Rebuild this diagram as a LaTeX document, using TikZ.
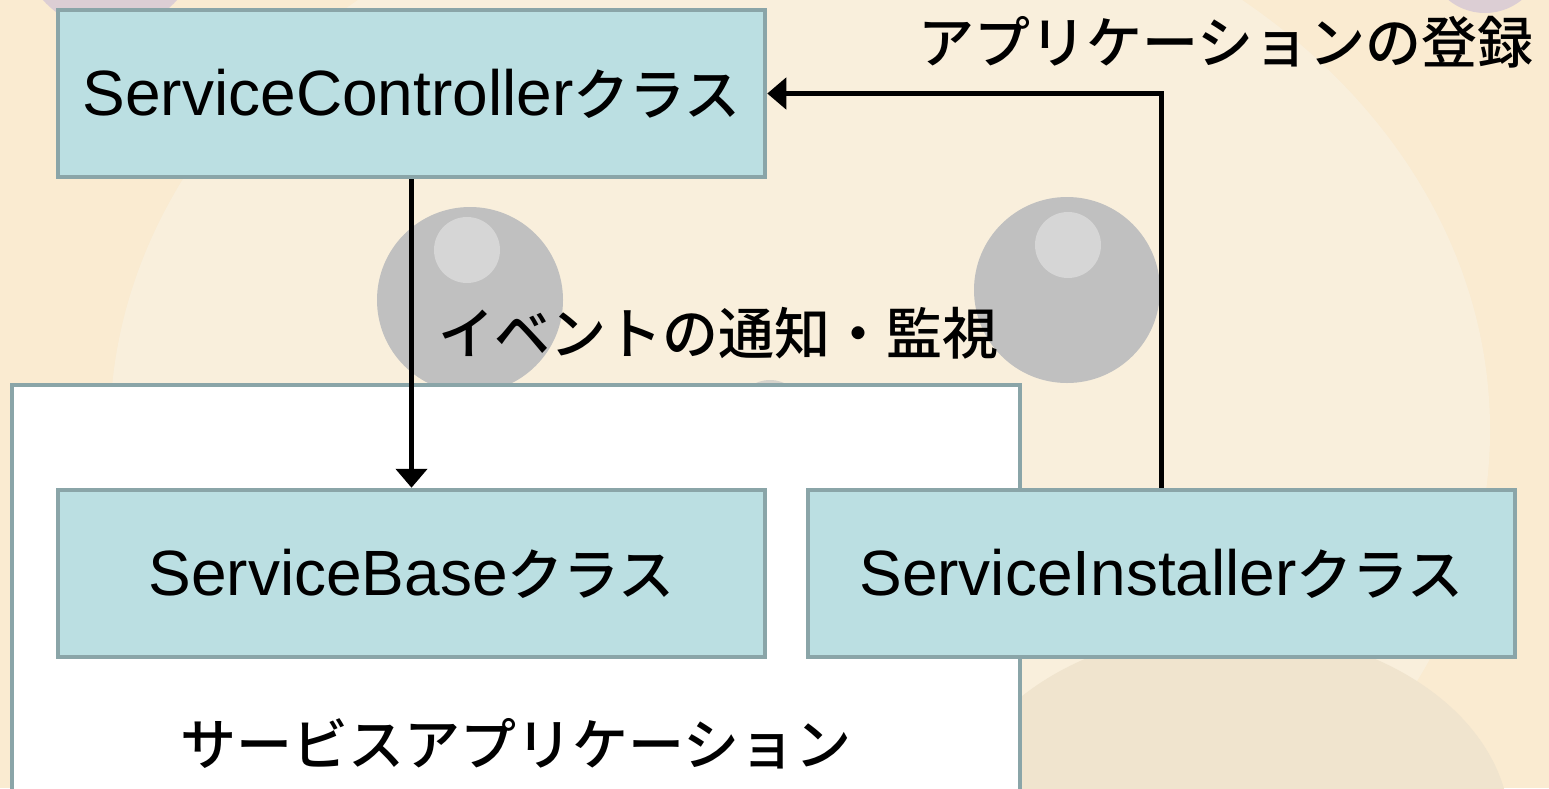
\documentclass[tikz,border=0pt]{standalone}
\usepackage{fontspec}
\setmainfont{Liberation Sans}
\newfontfamily\jp{Noto Sans CJK JP}[Scale=0.875, UprightFont={* Medium}]
\usetikzlibrary{arrows.meta}

\definecolor{bgcream}{RGB}{250,235,209}
\definecolor{facecream}{RGB}{249,239,220}
\definecolor{bodyshade}{RGB}{240,228,206}
\definecolor{eyegray}{RGB}{192,192,192}
\definecolor{eyelight}{RGB}{214,214,214}
\definecolor{earpurple}{RGB}{220,206,212}
\definecolor{boxfill}{RGB}{187,223,226}
\definecolor{boxline}{RGB}{138,165,168}

\tikzset{
	classbox/.style={rectangle, draw=boxline, fill=boxfill, line width=4.5pt,
		minimum width=707pt, minimum height=167pt, inner sep=0pt},
	appbox/.style={rectangle, draw=boxline, fill=white, line width=4.5pt,
		minimum width=1008pt, minimum height=440pt, inner sep=0pt},
	lbl/.style={inner sep=0pt, text=black},
	flow/.style={line width=5.5pt, -{Triangle[width=31pt,length=19pt]}},
}

\begin{document}
\begin{tikzpicture}[x=1pt, y=-1pt, font=\fontsize{64}{70}\selectfont]
		\useasboundingbox (0,0) rectangle (1549,788);
		\clip (0,0) rectangle (1549,788);
		% backdrop: faint mascot face
		\fill[bgcream] (0,0) rectangle (1549,788);
		\fill[facecream] (800,430) ellipse [x radius=690, y radius=560];
		\fill[bodyshade] (1230,830) ellipse [x radius=280, y radius=200];
		\fill[earpurple] (110,-60) circle (90);
		\fill[earpurple] (1485,-45) circle (58);
		\fill[eyegray] (470,300) circle (93);
		\fill[eyelight] (467,250) circle (33);
		\fill[eyegray] (1067,290) circle (93);
		\fill[eyelight] (1068,245) circle (33);
		\fill[eyegray!60!facecream] (770,402) ellipse [x radius=28, y radius=22];
%		\draw[red, thin] (0,0) grid[step=100] (1549,788);
		% service application frame
		\node[appbox] (app) at (516,605) {};
		\node[lbl] (apptitle) at (516,744) {\jp サービスアプリケーション};
		% classes
		\node[classbox] (ctrl) at (411.5,93.5) {ServiceController{\jp クラス}};
		\node[classbox] (base) at (411.5,573.5) {ServiceBase{\jp クラス}};
		\node[classbox] (inst) at (1161.5,573.5) {ServiceInstaller{\jp クラス}};
		% connectors
		\draw[flow] (ctrl.south) -- (base.north);
		\draw[flow] (inst.north) |- (ctrl.east);
		\node[lbl, anchor=west] (notify) at (438,333) {\jp イベントの通知・監視};
		\node[lbl] (register) at (1226,42) {\jp アプリケーションの登録};
	\end{tikzpicture}
\end{document}
